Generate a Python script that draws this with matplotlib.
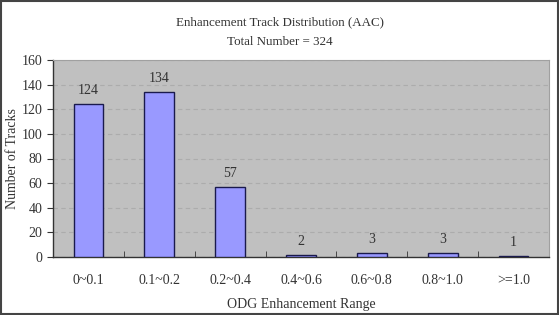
import matplotlib.pyplot as plt
import numpy as np

categories = ['0~0.1', '0.1~0.2', '0.2~0.4', '0.4~0.6', '0.6~0.8', '0.8~1.0', '>=1.0']
counts = [124, 134, 57, 2, 3, 3, 1]
yticks = [0, 20, 40, 60, 80, 100, 120, 140, 160]

plt.rcParams['font.family'] = ['Liberation Serif', 'DejaVu Serif']

fig = plt.figure(figsize=(5.59, 3.15), dpi=100)
ax = fig.add_axes([53 / 559, 1 - 257 / 315, 496 / 559, 197 / 315])

x = np.arange(len(categories))
ax.bar(x, counts, width=0.42, color='#9999FF', edgecolor='#1a1a4d', linewidth=1.0, zorder=3)
for xi, c in zip(x, counts):
    ax.annotate(str(c), (xi, c), xytext=(0, 5), textcoords='offset points',
                ha='center', va='bottom', fontsize=10, color='#333333')

ax.set_facecolor('#C0C0C0')
ax.set_xlim(-0.5, len(categories) - 0.5)
ax.set_ylim(0, 160)
ax.set_yticks(yticks)
ax.yaxis.grid(True, linestyle=(0, (4, 3)), color='#acacac', linewidth=0.8, zorder=0)
ax.set_xticks(x)
ax.set_xticklabels(categories)
ax.tick_params(axis='x', length=0, pad=12, labelsize=10, labelcolor='#333333')
ax.set_xticks(np.arange(len(categories) + 1) - 0.5, minor=True)
ax.tick_params(axis='x', which='minor', direction='in', length=4, color='#333333')
ax.tick_params(axis='y', length=4, labelsize=10, labelcolor='#333333', color='#333333')

for s in ['top', 'right']:
    ax.spines[s].set_color('#a0a0a0')
    ax.spines[s].set_linewidth(0.8)
for s in ['left', 'bottom']:
    ax.spines[s].set_color('#333333')
    ax.spines[s].set_linewidth(1.0)

ax.set_xlabel('ODG Enhancement Range', fontsize=10, color='#333333', labelpad=8)
ax.set_ylabel('Number of Tracks', fontsize=10, color='#333333')
ax.yaxis.set_label_coords(-34 / 496, 0.5)
fig.text(0.5, 1 - 22 / 315, 'Enhancement Track Distribution (AAC)', ha='center', va='center', fontsize=9.4, color='#333333')
fig.text(0.5, 1 - 42 / 315, 'Total Number = 324', ha='center', va='center', fontsize=9.4, color='#333333')

fig.patches.append(plt.Rectangle((0.002, 0.004), 0.996, 0.992, transform=fig.transFigure,
                                 fill=False, edgecolor='#444444', linewidth=1.5))

fig.savefig('out.png', dpi=100)
